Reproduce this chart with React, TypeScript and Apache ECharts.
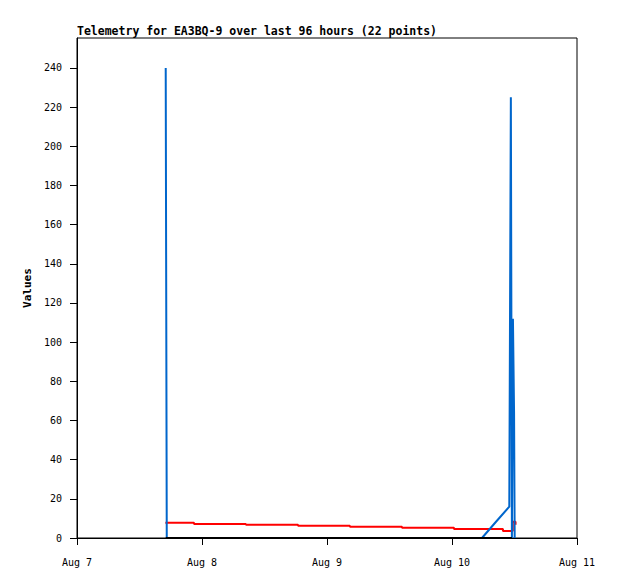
import React, { useEffect, useRef } from "react";
import * as echarts from "echarts";

const titleText = "Telemetry for EA3BQ-9 over last 96 hours (22 points)";
const axisStart = "2024-08-07T00:00:00Z";
const axisEnd = "2024-08-11T00:00:00Z";
const yTicks = [0, 20, 40, 60, 80, 100, 120, 140, 160, 180, 200, 220, 240];

// red channel (step line)
const redTimes = [
  "2024-08-07T16:58:00Z",
  "2024-08-07T22:28:00Z",
  "2024-08-08T08:26:00Z",
  "2024-08-08T18:26:00Z",
  "2024-08-09T04:24:00Z",
  "2024-08-09T14:24:00Z",
  "2024-08-10T00:23:00Z",
  "2024-08-10T09:47:00Z",
  "2024-08-10T11:40:00Z",
  "2024-08-10T12:12:00Z",
];
const redValues = [7.8, 7.15, 6.75, 6.2, 5.7, 5.2, 4.6, 3.6, 8.3, 6.8];

// blue channel
const blueTimes = [
  "2024-08-07T17:02:00Z",
  "2024-08-07T17:14:00Z",
  "2024-08-10T05:45:00Z",
  "2024-08-10T08:27:00Z",
  "2024-08-10T11:00:00Z",
  "2024-08-10T11:18:00Z",
  "2024-08-10T11:30:00Z",
  "2024-08-10T11:42:00Z",
  "2024-08-10T11:55:00Z",
  "2024-08-10T12:02:00Z",
];
const blueValues = [240, 0, 0, 8.3, 16, 225, 0, 112, 64, 0];

// black channel
const blackTimes = ["2024-08-07T17:02:00Z", "2024-08-10T11:30:00Z"];
const blackValues = [0, 0];

const MONTHS = ["Jan", "Feb", "Mar", "Apr", "May", "Jun", "Jul", "Aug", "Sep", "Oct", "Nov", "Dec"];
const FONT = "'DejaVu Sans Mono', 'Liberation Mono', monospace";

function pairs(times: string[], values: number[]) {
  return times.map((t, i) => [Date.parse(t), values[i]]);
}

export default function App() {
  const ref = useRef<HTMLDivElement>(null);
  useEffect(() => {
    if (!ref.current) return;
    const chart = echarts.init(ref.current, null, { renderer: "svg" });
    chart.setOption({
      animation: false,
      backgroundColor: "#ffffff",
      title: {
        text: titleText,
        left: 77,
        top: 25,
        padding: 0,
        textStyle: { fontFamily: FONT, fontSize: 11.5, fontWeight: "bold", color: "#000" },
      },
      grid: {
        left: 77,
        right: 41,
        top: 38,
        bottom: 41,
        show: true,
        borderColor: "#000",
        borderWidth: 1,
        backgroundColor: "transparent",
      },
      xAxis: {
        type: "value",
        min: Date.parse(axisStart),
        max: Date.parse(axisEnd),
        interval: 86400000,
        axisLine: { show: true, lineStyle: { color: "#000", width: 1 } },
        axisTick: { show: true, length: 7, lineStyle: { color: "#000", width: 1 } },
        splitLine: { show: false },
        axisLabel: {
          margin: 19,
          color: "#000",
          fontFamily: FONT,
          fontSize: 10,
          formatter: (v: number) => {
            const d = new Date(v);
            return `${MONTHS[d.getUTCMonth()]} ${d.getUTCDate()}`;
          },
        },
      },
      yAxis: {
        type: "value",
        min: 0,
        max: 255.3,
        name: "Values",
        nameLocation: "middle",
        nameGap: 38,
        nameRotate: 90,
        nameTextStyle: { fontFamily: FONT, fontSize: 11, fontWeight: "bold", color: "#000" },
        axisLine: { show: true, lineStyle: { color: "#000", width: 1 } },
        axisTick: { show: true, length: 7, customValues: yTicks, lineStyle: { color: "#000", width: 1 } },
        splitLine: { show: false },
        axisLabel: {
          customValues: yTicks,
          margin: 15,
          color: "#000",
          fontFamily: FONT,
          fontSize: 10,
        },
      },
      series: [
        {
          type: "line",
          data: pairs(redTimes, redValues),
          step: "end",
          showSymbol: false,
          lineStyle: { color: "#ff0000", width: 2 },
          itemStyle: { color: "#ff0000" },
        },
        {
          type: "line",
          data: pairs(blueTimes, blueValues),
          showSymbol: false,
          lineStyle: { color: "#0066cc", width: 2 },
          itemStyle: { color: "#0066cc" },
        },
        {
          type: "line",
          data: pairs(blackTimes, blackValues),
          showSymbol: false,
          lineStyle: { color: "#000000", width: 2 },
          itemStyle: { color: "#000000" },
        },
      ],
    });
    return () => chart.dispose();
  }, []);
  return <div ref={ref} style={{ width: 618, height: 579, position: "absolute", left: 0, top: 0 }} />;
}
